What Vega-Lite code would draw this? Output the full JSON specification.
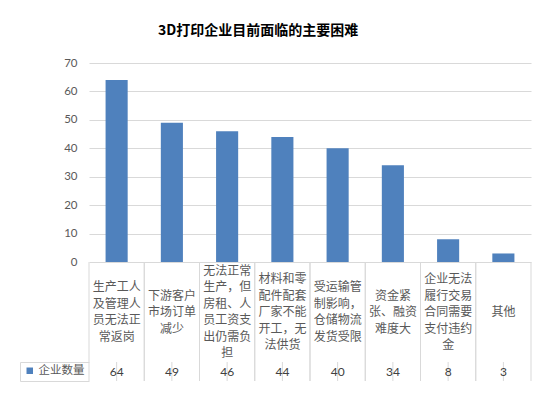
{
  "$schema": "https://vega.github.io/schema/vega-lite/v6.json",
  "padding": {"left": 19, "top": 24, "right": 28, "bottom": 13},
  "background": "white",
  "config": {"view": {"stroke": null}},
  "title": {"text": "3D打印企业目前面临的主要困难", "font": "Noto Sans CJK SC", "fontSize": 14, "fontWeight": "bold", "color": "#000000", "anchor": "middle", "frame": "group", "offset": 19, "dx": -52},
  "datasets": {
    "d": [
      {"category": "生产工人及管理人员无法正常返岗", "lines": "生产工人|及管理人|员无法正|常返岗", "value": 64, "series": "企业数量"},
      {"category": "下游客户市场订单减少", "lines": "下游客户|市场订单|减少", "value": 49, "series": "企业数量"},
      {"category": "无法正常生产，但房租、人员工资支出仍需负担", "lines": "无法正常|生产，但|房租、人|员工资支|出仍需负|担", "value": 46, "series": "企业数量"},
      {"category": "材料和零配件配套厂家不能开工，无法供货", "lines": "材料和零|配件配套|厂家不能|开工，无|法供货", "value": 44, "series": "企业数量"},
      {"category": "受运输管制影响，仓储物流发货受限", "lines": "受运输管|制影响，|仓储物流|发货受限", "value": 40, "series": "企业数量"},
      {"category": "资金紧张、融资难度大", "lines": "资金紧|张、融资|难度大", "value": 34, "series": "企业数量"},
      {"category": "企业无法履行交易合同需要支付违约金", "lines": "企业无法|履行交易|合同需要|支付违约|金", "value": 8, "series": "企业数量"},
      {"category": "其他", "lines": "其他", "value": 3, "series": "企业数量"}
    ]
  },
  "data": {"name": "d"},
  "bounds": "flush",
  "spacing": 0,
  "resolve": {"scale": {"x": "independent", "y": "independent", "color": "independent"}},
  "vconcat": [
    {
      "width": 442,
      "height": 199,
      "mark": {"type": "bar"},
      "encoding": {
        "x": {"field": "category", "type": "nominal", "sort": null, "scale": {"paddingInner": 0.6, "paddingOuter": 0.3}, "axis": null},
        "y": {"field": "value", "type": "quantitative", "scale": {"domain": [0, 70]}, "axis": {"values": [0, 10, 20, 30, 40, 50, 60, 70], "title": null, "domain": false, "ticks": false, "labelPadding": 12, "labelFont": "Lato", "labelFontSize": 11.5, "labelColor": "#595959", "gridColor": "#d9d9d9"}},
        "color": {"field": "series", "type": "nominal", "scale": {"range": ["#4f81bd"]}, "legend": {"orient": "none", "legendX": -65, "legendY": 302, "title": null, "symbolType": "square", "symbolSize": 42, "labelOffset": 3, "labelFont": "Noto Sans CJK SC", "labelFontSize": 11.5, "labelColor": "#595959", "padding": 0, "symbolStrokeWidth": 0}}
      }
    },
    {
      "width": 442,
      "height": 100,
      "encoding": {
        "x": {"field": "category", "type": "nominal", "sort": null, "scale": {"paddingInner": 0, "paddingOuter": 0}, "axis": null}
      },
      "layer": [
        {"mark": {"type": "rule", "color": "#d9d9d9", "strokeWidth": 1}, "encoding": {"x": {"field": "category", "type": "nominal", "sort": null, "bandPosition": 0}}},
        {"mark": {"type": "rule", "color": "#d9d9d9", "strokeWidth": 1}, "encoding": {"x": {"field": "category", "type": "nominal", "sort": null, "bandPosition": 1}}},
        {
          "mark": {"type": "text", "lineBreak": "|", "font": "Noto Sans CJK SC", "fontSize": 12, "color": "#595959", "lineHeight": 16.5, "dy": {"expr": "-(length(split(datum.lines, '|')) - 1) * 8.25"}},
          "encoding": {"text": {"field": "lines"}}
        }
      ]
    },
    {
      "width": 442,
      "height": 19,
      "encoding": {
        "x": {"field": "category", "type": "nominal", "sort": null, "scale": {"paddingInner": 0, "paddingOuter": 0}, "axis": null},
        "y": {"datum": 0.5, "type": "quantitative", "scale": {"domain": [0, 1]}, "axis": {"values": [0, 1], "title": null, "labels": false, "grid": false, "domain": true, "domainColor": "#d9d9d9", "offset": 69, "tickSize": -69, "tickColor": "#d9d9d9"}}
      },
      "layer": [
        {"mark": {"type": "rule", "color": "#d9d9d9", "strokeWidth": 1}, "encoding": {"x": {"field": "category", "type": "nominal", "sort": null, "bandPosition": 0}, "y": {"datum": 0, "type": "quantitative"}, "y2": {"datum": 1}}},
        {"mark": {"type": "rule", "color": "#d9d9d9", "strokeWidth": 1}, "encoding": {"x": {"field": "category", "type": "nominal", "sort": null, "bandPosition": 1}, "y": {"datum": 0, "type": "quantitative"}, "y2": {"datum": 1}}},
        {"mark": {"type": "rule", "color": "#d9d9d9", "strokeWidth": 1}, "encoding": {"y": {"datum": 0, "type": "quantitative"}}},
        {"mark": {"type": "rule", "color": "#d9d9d9", "strokeWidth": 1}, "encoding": {"y": {"datum": 1, "type": "quantitative"}}},
        {"mark": {"type": "text", "font": "Lato", "fontSize": 12, "color": "#404040"}, "encoding": {"text": {"field": "value"}}}
      ]
    }
  ]
}
